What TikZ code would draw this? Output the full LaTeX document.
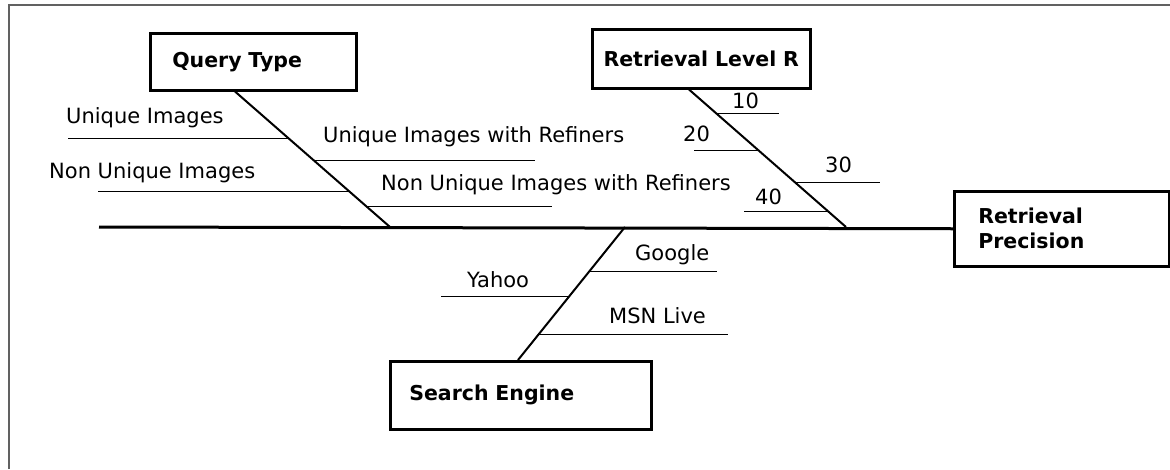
\documentclass[tikz,border=0pt]{standalone}
\usepackage{fontspec}
\setmainfont{DejaVu Sans}
\usetikzlibrary{calc}

\tikzset{
 causebox/.style={draw, line width=2.5pt, anchor=north west, inner ysep=0pt, font=\fontsize{20.5}{25}\selectfont\bfseries},
 bone/.style={line width=2pt},
 rib/.style={line width=1pt},
 ribtext/.style={anchor=base west, inner sep=0pt, font=\fontsize{21}{24}\selectfont}
}

\begin{document}
\begin{tikzpicture}[x=1pt, y=-1pt]
 \useasboundingbox (0,0) rectangle (1170,469);
 \draw[black!62, line width=1.5pt] (9,469) -- (9,5) -- (1170,5);

 % cause boxes and effect box
 \node[causebox, align=left, minimum width=206, minimum height=57, text width=162, inner xsep=22] (query) at (149,32) {Query Type};
 \node[causebox, align=center, minimum width=218, minimum height=59, text width=200, inner xsep=9] (level) at (591,28) {Retrieval Level R};
 \node[causebox, align=left, minimum width=261, minimum height=68, text width=223, inner xsep=19] (engine) at (389,360) {Search Engine};
 \node[causebox, align=left, minimum width=215, minimum height=75, text width=167, inner xsep=24] (precision) at (953,190) {Retrieval\\Precision};

 % spines
 \coordinate (tail) at (99,227);
 \coordinate (qjoin) at (390,227);
 \coordinate (ljoin) at (846,227);
 \coordinate (sjoin) at (625,227);
 \coordinate (qtop) at ($(query.south west)+(86,0)$);
 \coordinate (ltop) at ($(level.south west)+(98,0)$);
 \coordinate (sbot) at ($(engine.north west)+(129,0)$);
 \draw[line width=3pt] (tail) -- (precision.west);
 \draw[bone] (qtop) -- (qjoin);
 \draw[bone] (ltop) -- (ljoin);
 \draw[bone] (sjoin) -- (sbot);

 % ribs
 \foreach \t/\len in {.348/-221, .507/221, .739/-252, .848/186}
  \draw[rib] ($(qtop)!\t!(qjoin)$) -- ++(\len,0);
 \foreach \t/\len in {.171/63, .443/-65, .679/84, .886/-84}
  \draw[rib] ($(ltop)!\t!(ljoin)$) -- ++(\len,0);
 \foreach \t/\len in {.338/128, .526/-128, .805/189}
  \draw[rib] ($(sjoin)!\t!(sbot)$) -- ++(\len,0);

 % rib labels
 \node[ribtext] (unique) at (66,123) {Unique Images};
 \node[ribtext] (nonunique) at (49,178) {Non Unique Images};
 \node[ribtext] (uniqueref) at (323,142) {Unique Images with Refiners};
 \node[ribtext] (nonuniqueref) at (381,190) {Non Unique Images with Refiners};
 \foreach \r/\x/\y in {10/732/108, 20/683/141, 30/825/172, 40/755/204}
  \node[ribtext] (r\r) at (\x,\y) {\r};
 \node[ribtext] (google) at (635,260) {Google};
 \node[ribtext] (yahoo) at (467,287) {Yahoo};
 \node[ribtext] (msn) at (609,323) {MSN Live};
\end{tikzpicture}
\end{document}
